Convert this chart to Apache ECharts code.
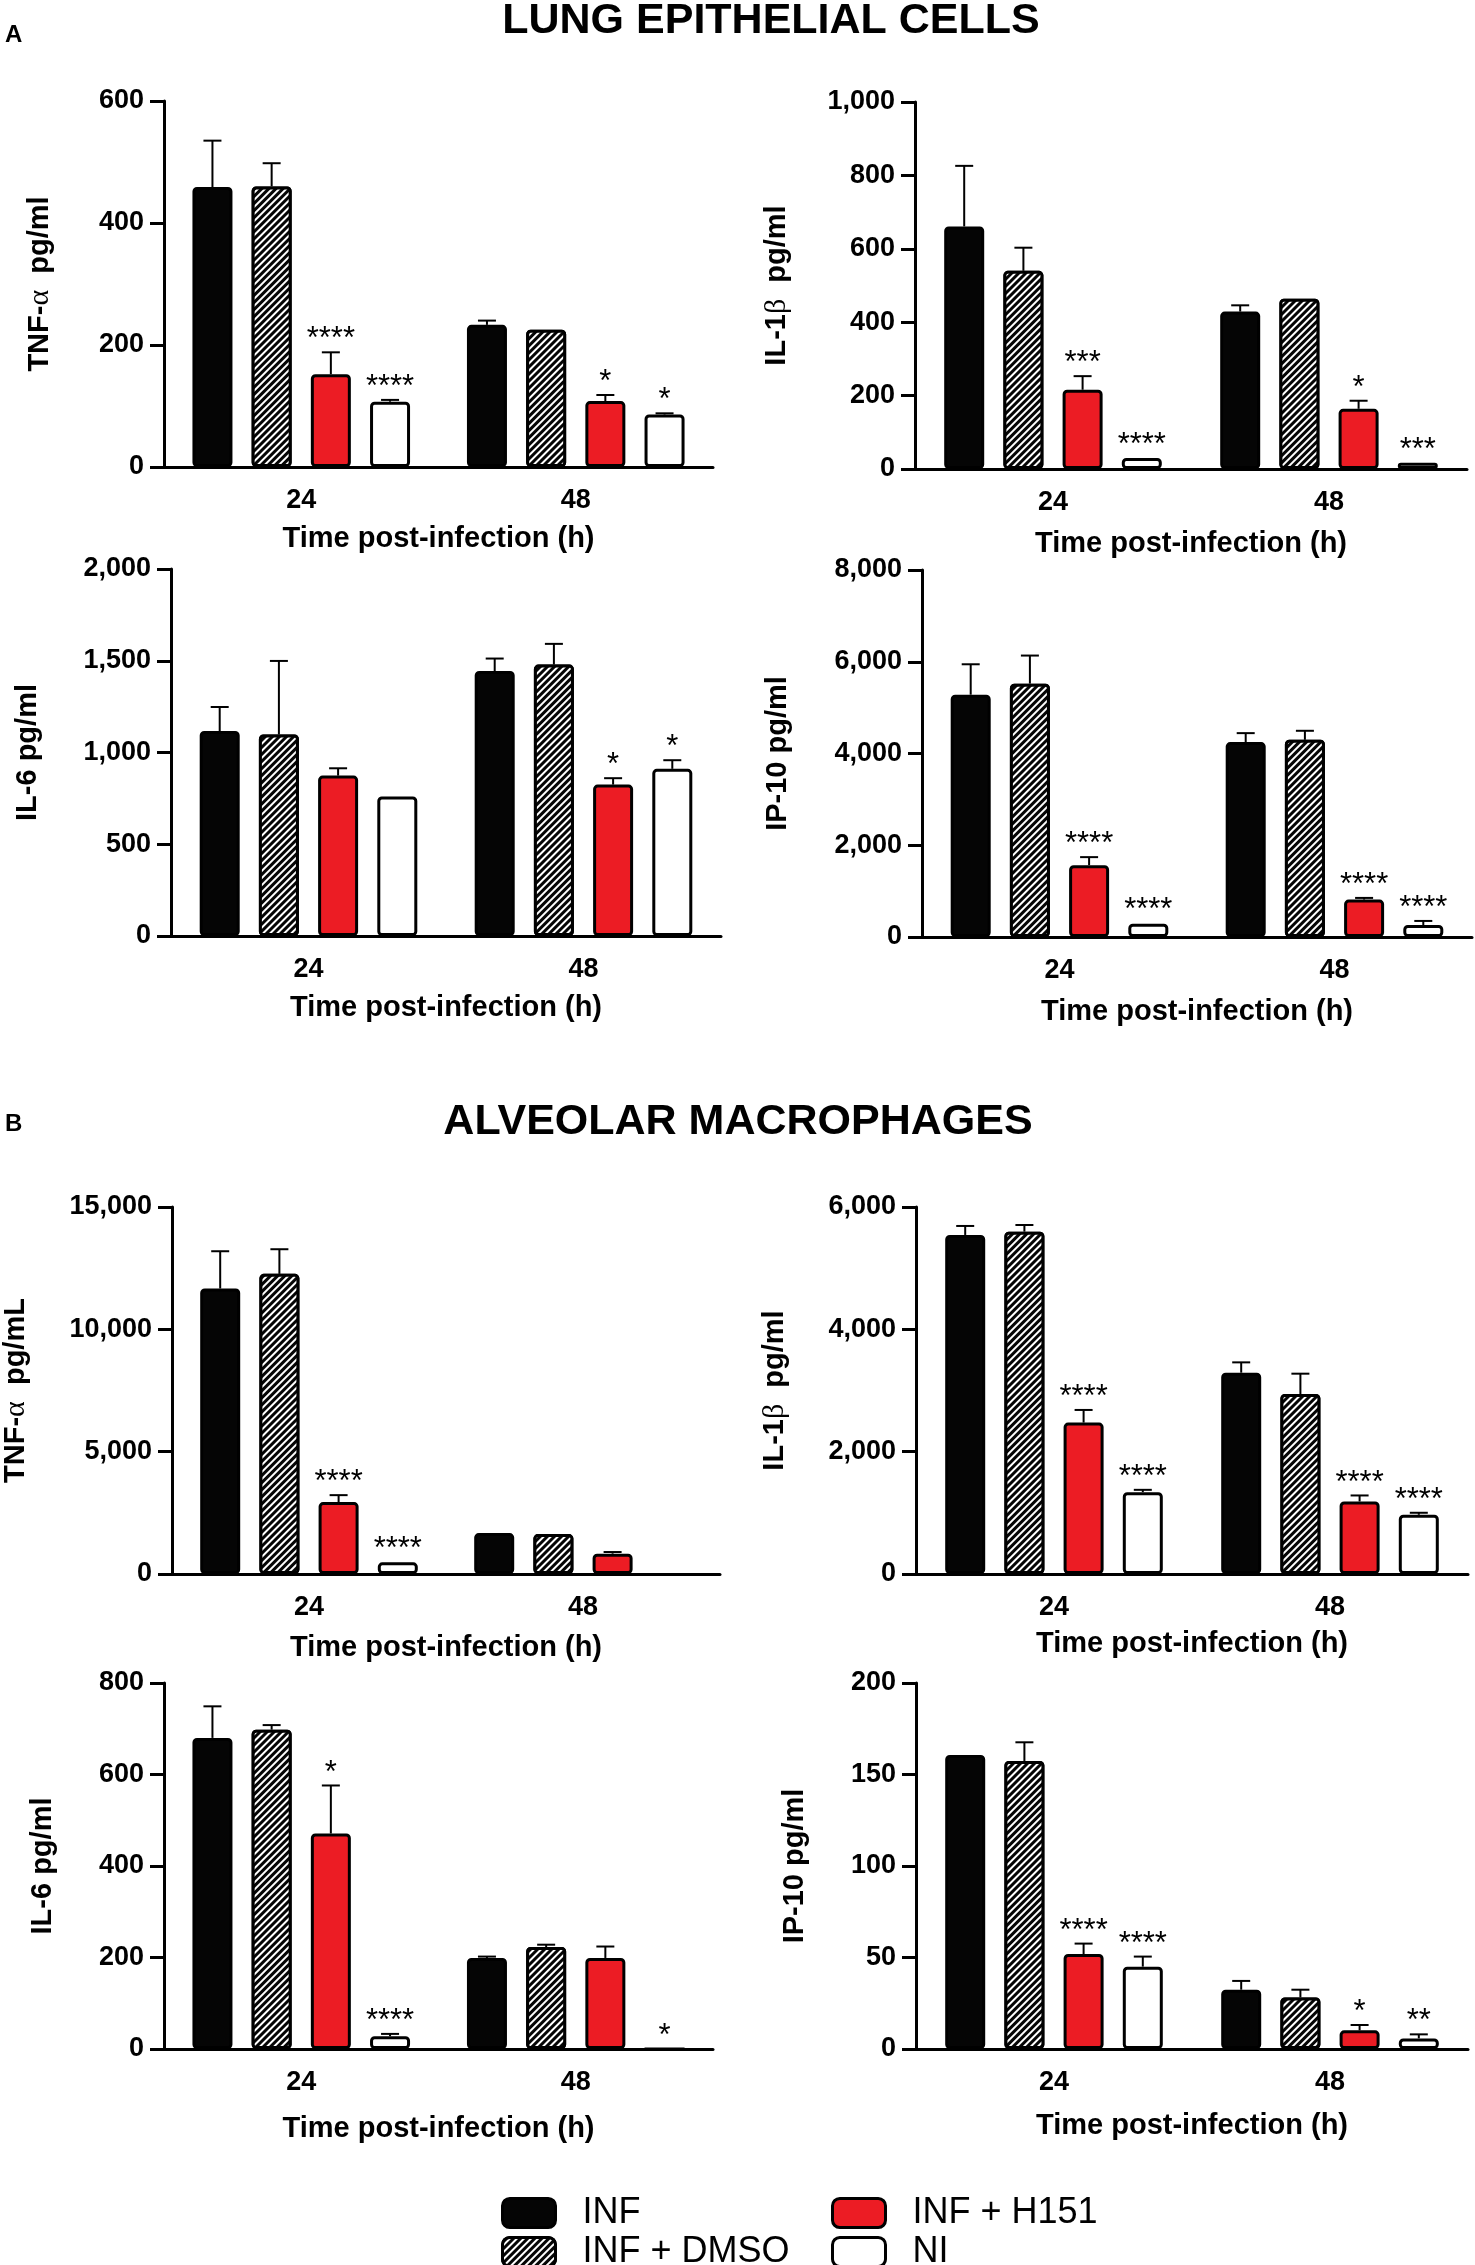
<!DOCTYPE html>
<html>
<head>
<meta charset="utf-8">
<title>Cytokine release</title>
<script src="https://cdn.jsdelivr.net/npm/echarts@6/dist/echarts.min.js"></script>
<style>
  html, body { margin: 0; padding: 0; background: #fff; }
  #chart { width: 1475px; height: 2265px; }
</style>
</head>
<body>
<div id="chart"></div>
<script>
const groups = ["INF", "INF + DMSO", "INF + H151", "NI"];
const times = ["24", "48"];

// A - lung epithelial cells, rows = groups, cols = 24h / 48h
// *Err = top end of the error bar
const epiTnfMean = [[459, 233], [460, 225], [152, 108], [107, 86]];
const epiTnfErr = [[535, 240], [498, 226], [188, 118], [110, 88]];
const epiTnfStars = [["", ""], ["", ""], ["****", "*"], ["****", "*"]];

const epiIl1bMean = [[661, 429], [540, 464], [216, 164], [30, 17]];
const epiIl1bErr = [[826, 446], [603, 464], [253, 186], [30, 17]];
const epiIl1bStars = [["", ""], ["", ""], ["***", "*"], ["****", "***"]];

const epiIl6Mean = [[1117, 1444], [1098, 1479], [874, 825], [760, 911]];
const epiIl6Err = [[1248, 1512], [1499, 1592], [914, 860], [765, 958]];
const epiIl6Stars = [["", ""], ["", ""], ["", "*"], ["", "*"]];

const epiIp10Mean = [[5282, 4248], [5523, 4299], [1566, 816], [291, 262]];
const epiIp10Err = [[5945, 4444], [6135, 4495], [1741, 852], [300, 350]];
const epiIp10Stars = [["", ""], ["", ""], ["****", "****"], ["****", "****"]];

// B - alveolar macrophages
const macTnfMean = [[11669, 1673], [12267, 1632], [2938, 830], [476, null]];
const macTnfErr = [[13192, 1690], [13274, 1640], [3223, 898], [476, null]];
const macTnfStars = [["", ""], ["", ""], ["****", ""], ["****", ""]];

const macIl1bMean = [[5543, 3291], [5597, 2943], [2475, 1186], [1338, 968]];
const macIl1bErr = [[5690, 3460], [5706, 3275], [2682, 1284], [1376, 1001]];
const macIl1bStars = [["", ""], ["", ""], ["****", "****"], ["****", "****"]];

const macIl6Mean = [[680, 199], [698, 223], [471, 199], [28, 0]];
const macIl6Err = [[749, 202], [708, 228], [576, 224], [33, 0]];
const macIl6Stars = [["", ""], ["", ""], ["*", ""], ["****", "*"]];

const macIp10Mean = [[160.7, 32.4], [157.4, 28.2], [51.9, 10.2], [45, 5.8]];
const macIp10Err = [[161, 37.2], [167.6, 32.4], [57.6, 13.1], [50.5, 8]];
const macIp10Stars = [["", ""], ["", ""], ["****", "*"], ["****", "**"]];

const FONT = "'Liberation Sans', Arial, Helvetica, sans-serif";
const BAR_W = 40;
const BAR_GAP = 0.48;
const PITCH = BAR_W * (1 + BAR_GAP);

// fills of the four groups
const groupStyles = [
  { color: "#050505" },
  { color: "#050505", decal: { symbol: "rect", symbolSize: 1, color: "#ffffff", dashArrayX: [1, 0], dashArrayY: [1.4, 2.4], rotation: -Math.PI / 4 } },
  { color: "#ec1c24" },
  { color: "#ffffff" }
];

const panels = [
  { mean: epiTnfMean, err: epiTnfErr, stars: epiTnfStars, name: "{t|TNF-}{g|α}{t|  pg/ml}", max: 600, step: 200, left: 164, top: 101, width: 549, height: 366, yGap: 109, xGap: 57 },
  { mean: epiIl1bMean, err: epiIl1bErr, stars: epiIl1bStars, name: "{t|IL-1}{g|β}{t|  pg/ml}", max: 1000, step: 200, left: 915, top: 102, width: 552, height: 367, yGap: 123, xGap: 60 },
  { mean: epiIl6Mean, err: epiIl6Err, stars: epiIl6Stars, name: "{t|IL-6 pg/ml}", max: 2000, step: 500, left: 171, top: 569, width: 550, height: 367, yGap: 129, xGap: 57 },
  { mean: epiIp10Mean, err: epiIp10Err, stars: epiIp10Stars, name: "{t|IP-10 pg/ml}", max: 8000, step: 2000, left: 922, top: 570, width: 550, height: 367, yGap: 130, xGap: 60 },
  { mean: macTnfMean, err: macTnfErr, stars: macTnfStars, name: "{t|TNF-}{g|α}{t|  pg/mL}", max: 15000, step: 5000, left: 170, top: 1207, width: 550, height: 367, yGap: 141, xGap: 59 },
  { mean: macIl1bMean, err: macIl1bErr, stars: macIl1bStars, name: "{t|IL-1}{g|β}{t|  pg/ml}", max: 6000, step: 2000, left: 916, top: 1207, width: 552, height: 367, yGap: 126, xGap: 55 },
  { mean: macIl6Mean, err: macIl6Err, stars: macIl6Stars, name: "{t|IL-6 pg/ml}", max: 800, step: 200, left: 164, top: 1683, width: 549, height: 366, yGap: 107, xGap: 65 },
  { mean: macIp10Mean, err: macIp10Err, stars: macIp10Stars, name: "{t|IP-10 pg/ml}", max: 200, step: 50, left: 916, top: 1683, width: 552, height: 366, yGap: 107, xGap: 62 }
];

// legend slots: 2 x 2 block under the charts
const legendSlots = [
  { left: 496, top: 2190 },
  { left: 496, top: 2229 },
  { left: 826, top: 2190 },
  { left: 826, top: 2229 }
];

function axisLineStyle() {
  return { color: "#000", width: 3 };
}

// error bars (upward only) and significance stars
function errorRenderer(starList) {
  return function (params, api) {
    const cat = api.value(0);
    const grp = api.value(1);
    const mean = api.value(2);
    const top = api.value(3);
    if (isNaN(mean)) return null;
    const base = api.coord([cat, mean]);
    const x = base[0] + (grp - 1.5) * PITCH;
    const yBar = base[1];
    const yTop = api.coord([cat, top])[1];
    const children = [];
    if (yTop < yBar - 1) {
      children.push({
        type: "line",
        shape: { x1: x, y1: yBar, x2: x, y2: yTop },
        style: { stroke: "#000", lineWidth: 2 }
      });
      children.push({
        type: "line",
        shape: { x1: x - 9, y1: yTop, x2: x + 9, y2: yTop },
        style: { stroke: "#000", lineWidth: 2 }
      });
    }
    const star = starList[params.dataIndex];
    if (star) {
      children.push({
        type: "text",
        x: x,
        y: Math.min(yTop, yBar) + 3,
        style: {
          text: star,
          fill: "#000",
          fontSize: 31,
          fontFamily: FONT,
          align: "center",
          verticalAlign: "bottom"
        }
      });
    }
    return { type: "group", children: children };
  };
}

function buildOption() {
  const grid = [], xAxis = [], yAxis = [], series = [];
  panels.forEach(function (p, k) {
    grid.push({ left: p.left, top: p.top, width: p.width, height: p.height });
    xAxis.push({
      type: "category",
      gridIndex: k,
      data: times,
      name: "Time post-infection (h)",
      nameLocation: "middle",
      nameGap: p.xGap,
      nameTextStyle: { fontFamily: FONT, fontWeight: "bold", fontSize: 29, color: "#000" },
      axisLine: { lineStyle: axisLineStyle() },
      axisTick: { alignWithLabel: true, length: 14, lineStyle: axisLineStyle() },
      axisLabel: { fontFamily: FONT, fontWeight: "bold", fontSize: 27, color: "#000", margin: 20 }
    });
    yAxis.push({
      type: "value",
      gridIndex: k,
      min: 0,
      max: p.max,
      interval: p.step,
      name: p.name,
      nameLocation: "middle",
      nameGap: p.yGap,
      nameTextStyle: {
        rich: {
          t: { fontFamily: FONT, fontWeight: "bold", fontSize: 29, color: "#000" },
          g: { fontFamily: "'Liberation Serif', 'DejaVu Serif', serif", fontSize: 30, color: "#000" }
        }
      },
      splitLine: { show: false },
      axisLine: { show: true, lineStyle: axisLineStyle() },
      axisTick: { show: true, length: 14, lineStyle: axisLineStyle() },
      axisLabel: {
        fontFamily: FONT, fontWeight: "bold", fontSize: 27, color: "#000", margin: 20,
        formatter: function (v) { return v.toLocaleString("en-US"); }
      }
    });
    const errData = [], starList = [];
    groups.forEach(function (g, i) {
      series.push({
        type: "bar",
        name: g,
        xAxisIndex: k,
        yAxisIndex: k,
        data: p.mean[i],
        barWidth: BAR_W,
        barGap: (BAR_GAP * 100) + "%",
        itemStyle: Object.assign({ borderColor: "#000", borderWidth: 3, borderRadius: 3 }, groupStyles[i]),
        emphasis: { disabled: true },
        animation: false
      });
      times.forEach(function (t, j) {
        errData.push([j, i, p.mean[i][j], p.err[i][j]]);
        starList.push(p.stars[i][j]);
      });
    });
    series.push({
      type: "custom",
      xAxisIndex: k,
      yAxisIndex: k,
      data: errData,
      encode: { x: 0, y: 3 },
      renderItem: errorRenderer(starList),
      z: 5,
      silent: true,
      animation: false
    });
  });

  // one legend per group so the 2 x 2 block lines up
  const legend = groups.map(function (g, i) {
    return {
      left: legendSlots[i].left,
      top: legendSlots[i].top,
      data: [g],
      itemWidth: 53,
      itemHeight: 29,
      icon: "roundRect",
      selectedMode: false,
      itemStyle: { borderColor: "#000", borderWidth: 3 },
      textStyle: { fontFamily: FONT, fontSize: 36, color: "#000", lineHeight: 29, padding: [0, 0, 0, 22] }
    };
  });

  return {
    backgroundColor: "#fff",
    animation: false,
    grid: grid,
    xAxis: xAxis,
    yAxis: yAxis,
    series: series,
    legend: legend,
    graphic: [
      { type: "text", left: 5, top: 23, style: { text: "A", fontFamily: FONT, fontWeight: "bold", fontSize: 24, fill: "#000" } },
      { type: "text", x: 771, y: 43, style: { text: "LUNG EPITHELIAL CELLS", fontFamily: FONT, fontWeight: "bold", fontSize: 43, fill: "#000", align: "center", verticalAlign: "bottom" } },
      { type: "text", left: 5, top: 1112, style: { text: "B", fontFamily: FONT, fontWeight: "bold", fontSize: 24, fill: "#000" } },
      { type: "text", x: 738, y: 1144, style: { text: "ALVEOLAR MACROPHAGES", fontFamily: FONT, fontWeight: "bold", fontSize: 43, fill: "#000", align: "center", verticalAlign: "bottom" } }
    ]
  };
}

const myChart = echarts.init(document.getElementById("chart"));
myChart.setOption(buildOption());
</script>
</body>
</html>
